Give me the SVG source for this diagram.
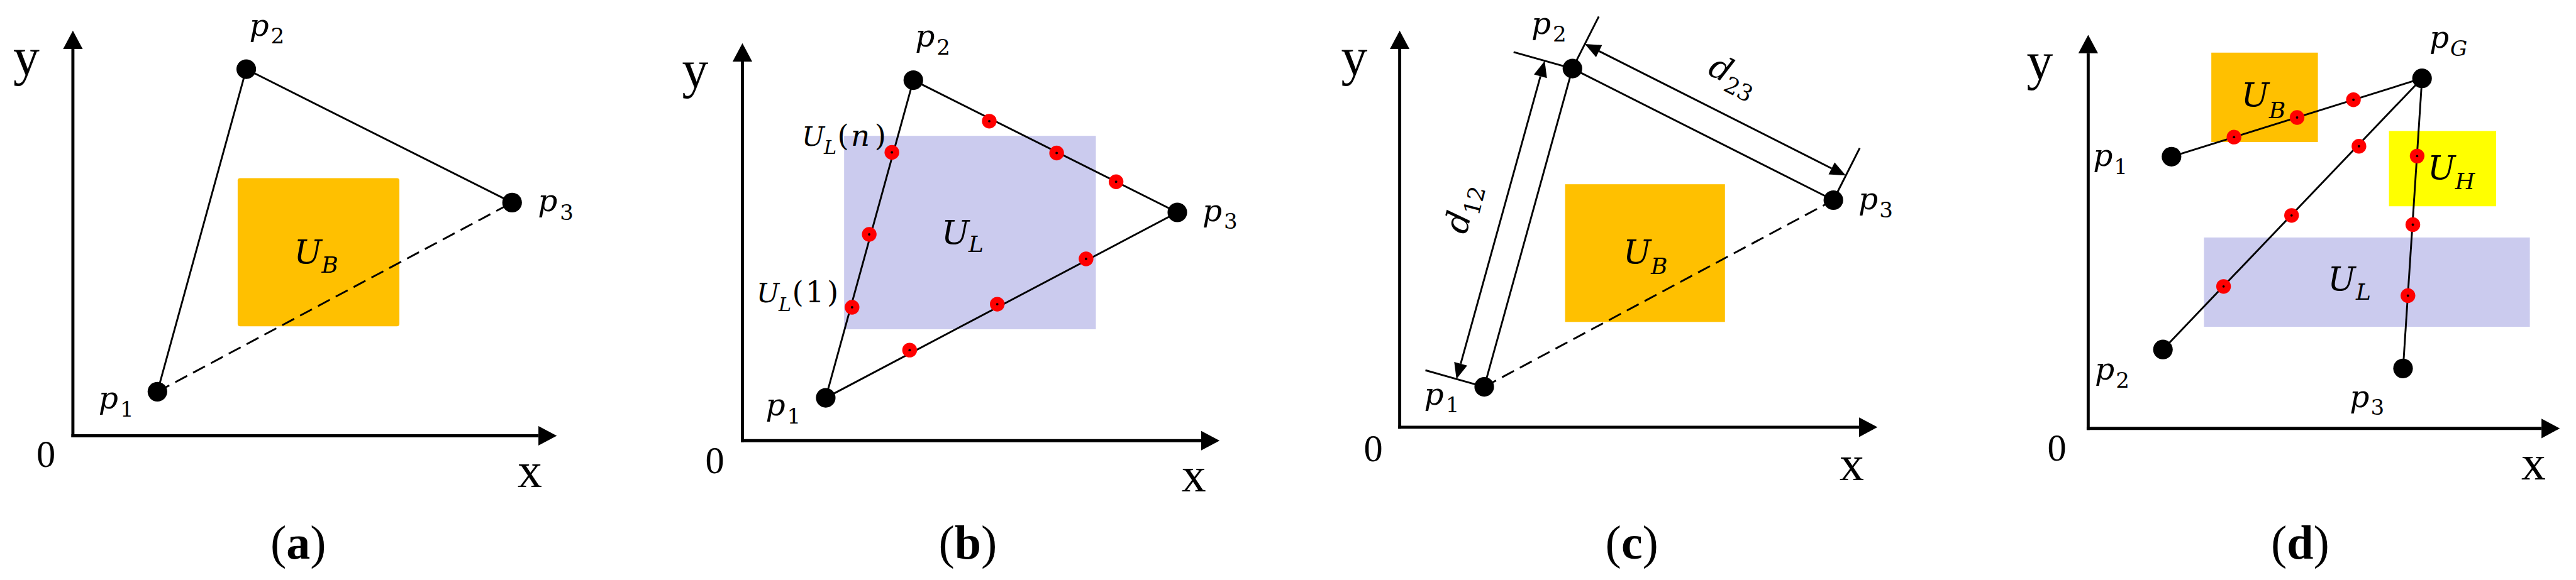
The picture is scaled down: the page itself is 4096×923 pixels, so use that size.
<svg xmlns="http://www.w3.org/2000/svg" xmlns:xlink="http://www.w3.org/1999/xlink" width="4096" height="923" viewBox="0 0 4096 923">
<style>
.ax{stroke:#000;stroke-width:5;fill:none}
.ln{stroke:#000;stroke-width:3;fill:none}
.dash{stroke-dasharray:22 11}
.dim{stroke:#000;stroke-width:3;fill:none}
.pt{fill:#000}
.al{font-family:'Liberation Serif',serif;fill:#000}
.m{font-family:'DejaVu Serif',serif;font-style:italic;fill:#000}
.up{font-style:normal}
.cap{font-family:'Liberation Serif',serif;font-size:78px;fill:#000;text-anchor:middle}
.ub{fill:#FFC000}
.ul{fill:#CBCBEE}
.uh{fill:#FFFF00}
</style>
<defs>
<marker id="axArr" markerUnits="userSpaceOnUse" markerWidth="30" markerHeight="32" refX="0" refY="16" orient="auto" overflow="visible">
<path d="M0,0 L30,16 L0,32 z" fill="#000"/>
</marker>
<marker id="dimArr" markerUnits="userSpaceOnUse" markerWidth="26" markerHeight="22" refX="0" refY="11" orient="auto-start-reverse" overflow="visible">
<path d="M0,0 L26,11 L0,22 z" fill="#000"/>
</marker>
<g id="rd"><circle r="12" fill="#FF0000"/><circle r="2" fill="#000"/></g>
</defs>
<rect width="4096" height="923" fill="#fff"/>
<g transform="scale(0.974)">

<!-- Panel (a) -->
<g id="panel-a">
<rect id="a-UB" class="ub" x="388" y="291" width="264" height="242" rx="4"/>
<g id="a-axes">
<line class="ax" x1="119" y1="714.5" x2="119" y2="80" marker-end="url(#axArr)"/>
<line class="ax" x1="116.5" y1="712" x2="879" y2="712" marker-end="url(#axArr)"/>
<text class="al" x="43" y="122" font-size="86" text-anchor="middle">y</text>
<text class="al" x="75" y="763" font-size="62" text-anchor="middle">0</text>
<text class="al" x="865" y="796" font-size="80" text-anchor="middle">x</text>
</g>
<g id="a-connectors">
<line class="ln" x1="257" y1="640" x2="402" y2="113"/>
<line class="ln" x1="402" y1="113" x2="836" y2="331"/>
<line class="ln dash" x1="257" y1="640" x2="836" y2="331"/>
</g>
<g id="a-p1"><circle class="pt" cx="257" cy="640" r="16"/><text class="m" x="161" y="667" font-size="50">p<tspan class="up" x="196" y="681" font-size="35">1</tspan></text></g>
<g id="a-p2"><circle class="pt" cx="402" cy="113" r="16"/><text class="m" x="407" y="59" font-size="50">p<tspan class="up" x="442" y="71" font-size="35">2</tspan></text></g>
<g id="a-p3"><circle class="pt" cx="836" cy="331" r="16"/><text class="m" x="878" y="345" font-size="50">p<tspan class="up" x="914" y="359" font-size="35">3</tspan></text></g>
<text class="m" x="480" y="430" font-size="54">U<tspan x="525" y="446" font-size="37">B</tspan></text>
<text class="cap" x="487" y="913">(<tspan font-weight="bold">a</tspan>)</text>
</g>

<!-- Panel (b) -->
<g id="panel-b">
<rect id="b-UL" class="ul" x="1378" y="222" width="411" height="316"/>
<g id="b-axes">
<line class="ax" x1="1212" y1="722.5" x2="1212" y2="100.5" marker-end="url(#axArr)"/>
<line class="ax" x1="1209.5" y1="720" x2="1961" y2="720" marker-end="url(#axArr)"/>
<text class="al" x="1135" y="143" font-size="86" text-anchor="middle">y</text>
<text class="al" x="1167" y="773" font-size="62" text-anchor="middle">0</text>
<text class="al" x="1949" y="803" font-size="80" text-anchor="middle">x</text>
</g>
<g id="b-connectors">
<line class="ln" x1="1348" y1="650" x2="1491" y2="131"/>
<line class="ln" x1="1491" y1="131" x2="1922" y2="347"/>
<line class="ln" x1="1348" y1="650" x2="1922" y2="347"/>
</g>
<g id="b-samples">
<use xlink:href="#rd" x="1456" y="249"/>
<use xlink:href="#rd" x="1419" y="383"/>
<use xlink:href="#rd" x="1391" y="502"/>
<use xlink:href="#rd" x="1615" y="198"/>
<use xlink:href="#rd" x="1725" y="250"/>
<use xlink:href="#rd" x="1822" y="297"/>
<use xlink:href="#rd" x="1485" y="572"/>
<use xlink:href="#rd" x="1628" y="497"/>
<use xlink:href="#rd" x="1773" y="423"/>
</g>
<g id="b-p1"><circle class="pt" cx="1348" cy="650" r="16"/><text class="m" x="1250" y="679" font-size="50">p<tspan class="up" x="1285" y="692" font-size="35">1</tspan></text></g>
<g id="b-p2"><circle class="pt" cx="1491" cy="131" r="16"/><text class="m" x="1494" y="76" font-size="50">p<tspan class="up" x="1529" y="89" font-size="35">2</tspan></text></g>
<g id="b-p3"><circle class="pt" cx="1922" cy="347" r="16"/><text class="m" x="1963" y="361" font-size="50">p<tspan class="up" x="1998" y="374" font-size="35">3</tspan></text></g>
<text class="m" x="1537" y="398" font-size="54">U<tspan x="1581" y="412" font-size="37">L</tspan></text>
<text class="m" x="1309" y="238" font-size="44">U<tspan x="1345" y="252" font-size="31">L</tspan><tspan class="up" x="1367" y="238" font-size="48">(</tspan><tspan x="1389" y="238" font-size="48">n</tspan><tspan class="up" x="1428" y="238" font-size="48">)</tspan></text>
<text class="m" x="1235" y="494" font-size="44">U<tspan x="1271" y="508" font-size="31">L</tspan><tspan class="up" x="1293" y="494" font-size="48">(</tspan><tspan class="up" x="1315" y="494" font-size="48">1</tspan><tspan class="up" x="1350" y="494" font-size="48">)</tspan></text>
<text class="cap" x="1580" y="913">(<tspan font-weight="bold">b</tspan>)</text>
</g>

<!-- Panel (c) -->
<g id="panel-c">
<rect id="c-UB" class="ub" x="2555" y="301" width="261" height="225"/>
<g id="c-axes">
<line class="ax" x1="2285" y1="700.5" x2="2285" y2="80" marker-end="url(#axArr)"/>
<line class="ax" x1="2282.5" y1="698" x2="3035" y2="698" marker-end="url(#axArr)"/>
<text class="al" x="2211" y="122" font-size="86" text-anchor="middle">y</text>
<text class="al" x="2242" y="754" font-size="62" text-anchor="middle">0</text>
<text class="al" x="3023" y="784" font-size="80" text-anchor="middle">x</text>
</g>
<g id="c-connectors">
<line class="ln" x1="2423" y1="632" x2="2567" y2="112"/>
<line class="ln" x1="2567" y1="112" x2="2993" y2="327"/>
<line class="ln dash" x1="2423" y1="632" x2="2993" y2="327"/>
<line class="ln" x1="2423" y1="632" x2="2327" y2="605"/>
<line class="ln" x1="2567" y1="112" x2="2471" y2="85"/>
<line class="ln" x1="2567" y1="112" x2="2610" y2="27"/>
<line class="ln" x1="2993" y1="327" x2="3036" y2="242"/>
<line class="dim" x1="2384.6" y1="594.4" x2="2514.8" y2="124.6" marker-start="url(#dimArr)" marker-end="url(#dimArr)"/>
<line class="dim" x1="2610.5" y1="83.5" x2="2990.1" y2="275.1" marker-start="url(#dimArr)" marker-end="url(#dimArr)"/>
</g>
<g id="c-p1"><circle class="pt" cx="2423" cy="632" r="16"/><text class="m" x="2325" y="661" font-size="50">p<tspan class="up" x="2360" y="674" font-size="35">1</tspan></text></g>
<g id="c-p2"><circle class="pt" cx="2567" cy="112" r="16"/><text class="m" x="2500" y="55" font-size="50">p<tspan class="up" x="2535" y="68" font-size="35">2</tspan></text></g>
<g id="c-p3"><circle class="pt" cx="2993" cy="327" r="16"/><text class="m" x="3034" y="342" font-size="50">p<tspan class="up" x="3068" y="355" font-size="35">3</tspan></text></g>
<text class="m" x="2650" y="430" font-size="54">U<tspan x="2695" y="448" font-size="37">B</tspan></text>
<g transform="translate(2390,342) rotate(-75.5)"><text class="m" x="-40" y="14" font-size="54">d<tspan class="up" dy="12" font-size="37">12</tspan></text></g>
<g transform="translate(2828,126) rotate(26.8)"><text class="m" x="-40" y="14" font-size="54">d<tspan class="up" dy="12" font-size="37">23</tspan></text></g>
<text class="cap" x="2664" y="913">(<tspan font-weight="bold">c</tspan>)</text>
</g>

<!-- Panel (d) -->
<g id="panel-d">
<rect id="d-UB" class="ub" x="3610" y="86" width="174" height="146"/>
<rect id="d-UH" class="uh" x="3900" y="214" width="175" height="123"/>
<rect id="d-UL" class="ul" x="3598" y="388" width="532" height="146"/>
<g id="d-axes">
<line class="ax" x1="3409" y1="702.5" x2="3409" y2="87" marker-end="url(#axArr)"/>
<line class="ax" x1="3406.5" y1="700" x2="4149" y2="700" marker-end="url(#axArr)"/>
<text class="al" x="3330" y="129" font-size="86" text-anchor="middle">y</text>
<text class="al" x="3358" y="753" font-size="62" text-anchor="middle">0</text>
<text class="al" x="4136" y="783" font-size="80" text-anchor="middle">x</text>
</g>
<g id="d-connectors">
<line class="ln" x1="3545" y1="256" x2="3954" y2="128"/>
<line class="ln" x1="3531" y1="571" x2="3954" y2="128"/>
<line class="ln" x1="3923" y1="602" x2="3954" y2="128"/>
</g>
<g id="d-samples">
<use xlink:href="#rd" x="3647" y="224"/>
<use xlink:href="#rd" x="3750" y="192"/>
<use xlink:href="#rd" x="3842" y="163"/>
<use xlink:href="#rd" x="3630" y="468"/>
<use xlink:href="#rd" x="3741" y="352"/>
<use xlink:href="#rd" x="3851" y="239"/>
<use xlink:href="#rd" x="3946" y="255"/>
<use xlink:href="#rd" x="3939" y="367"/>
<use xlink:href="#rd" x="3931" y="483"/>
</g>
<g id="d-pG"><circle class="pt" cx="3954" cy="128" r="16"/><text class="m" x="3966" y="78" font-size="50">p<tspan x="4000" y="91" font-size="35">G</tspan></text></g>
<g id="d-p1"><circle class="pt" cx="3545" cy="256" r="16"/><text class="m" x="3417" y="271" font-size="50">p<tspan class="up" x="3451" y="284" font-size="35">1</tspan></text></g>
<g id="d-p2"><circle class="pt" cx="3531" cy="571" r="16"/><text class="m" x="3420" y="620" font-size="50">p<tspan class="up" x="3454" y="633" font-size="35">2</tspan></text></g>
<g id="d-p3"><circle class="pt" cx="3923" cy="602" r="16"/><text class="m" x="3836" y="665" font-size="50">p<tspan class="up" x="3870" y="678" font-size="35">3</tspan></text></g>
<text class="m" x="3659" y="174" font-size="54">U<tspan x="3704" y="193" font-size="37">B</tspan></text>
<text class="m" x="3963" y="293" font-size="54">U<tspan x="4008" y="309" font-size="37">H</tspan></text>
<text class="m" x="3800" y="474" font-size="54">U<tspan x="3846" y="490" font-size="37">L</tspan></text>
<text class="cap" x="3755" y="913">(<tspan font-weight="bold">d</tspan>)</text>
</g>

</g>
</svg>
